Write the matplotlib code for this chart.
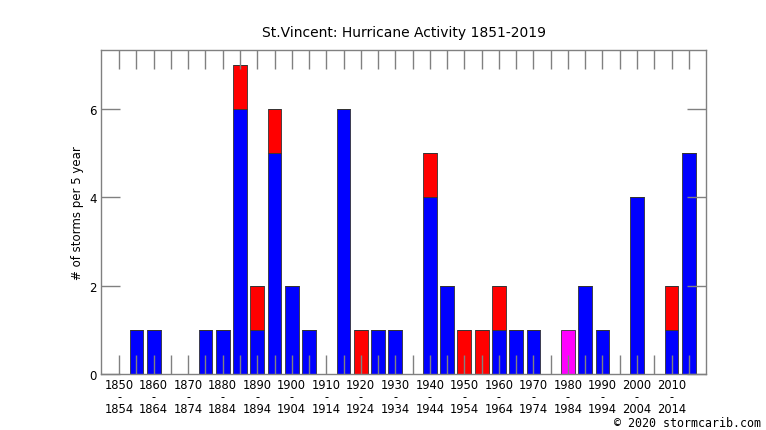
import numpy as np
import matplotlib
matplotlib.use("Agg")
import matplotlib.pyplot as plt

# 5-year bins, 1850-1854 ... 2015-2019
bin_start = list(range(1850, 2020, 5))
blue = [0, 1, 1, 0, 0, 1, 1, 6, 1, 5, 2, 1, 0, 6, 0, 1, 1,
        0, 4, 2, 0, 0, 1, 1, 1, 0, 0, 2, 1, 0, 4, 0, 1, 5]
red = [0, 0, 0, 0, 0, 0, 0, 1, 1, 1, 0, 0, 0, 0, 1, 0, 0,
       0, 1, 0, 1, 1, 1, 0, 0, 0, 0, 0, 0, 0, 0, 0, 1, 0]
magenta = [0, 0, 0, 0, 0, 0, 0, 0, 0, 0, 0, 0, 0, 0, 0, 0, 0,
           0, 0, 0, 0, 0, 0, 0, 0, 0, 1, 0, 0, 0, 0, 0, 0, 0]

title = "St.Vincent: Hurricane Activity 1851-2019"
ylabel = "# of storms per 5 year"

x = np.arange(len(bin_start))
blue = np.array(blue)
red = np.array(red)
magenta = np.array(magenta)

fig = plt.figure(figsize=(7.66, 4.31), dpi=100)
ax = fig.add_axes([0.1319, 0.1299, 0.7898, 0.7518])

ec = "#333333"
ax.bar(x, blue, width=0.8, color="#0000ff", edgecolor=ec, linewidth=0.6)
ax.bar(x, red, width=0.8, bottom=blue, color="#ff0000", edgecolor=ec, linewidth=0.6)
ax.bar(x, magenta, width=0.8, bottom=blue + red, color="#ff00ff", edgecolor=ec, linewidth=0.6)

ax.set_xlim(-1.05, 34)
ax.set_ylim(0, 7.33)

gray = "#808080"
for s in ax.spines.values():
    s.set_color(gray)
    s.set_linewidth(1.0)

ax.set_xticks(x)
labels = [f"{y}\n-\n{y + 4}" if y % 10 == 0 else "" for y in bin_start]
ax.set_xticklabels(labels, fontsize=8.3, linespacing=0.9)
ax.tick_params(axis="x", direction="in", length=14, width=1, color=gray,
               top=True, bottom=True, pad=3)
ax.set_yticks([0, 2, 4, 6])
ax.tick_params(axis="y", direction="in", length=14, width=1, color=gray,
               left=True, right=True, labelsize=8.5, pad=3)

ax.set_title(title, fontsize=10, pad=10)
ax.set_ylabel(ylabel, fontsize=8.5, labelpad=4)

fig.text(0.993, 0.003, "\u00a9 2020 stormcarib.com", family="DejaVu Sans Mono",
         fontsize=8.4, ha="right", va="bottom")

fig.savefig("out.png", dpi=100)
